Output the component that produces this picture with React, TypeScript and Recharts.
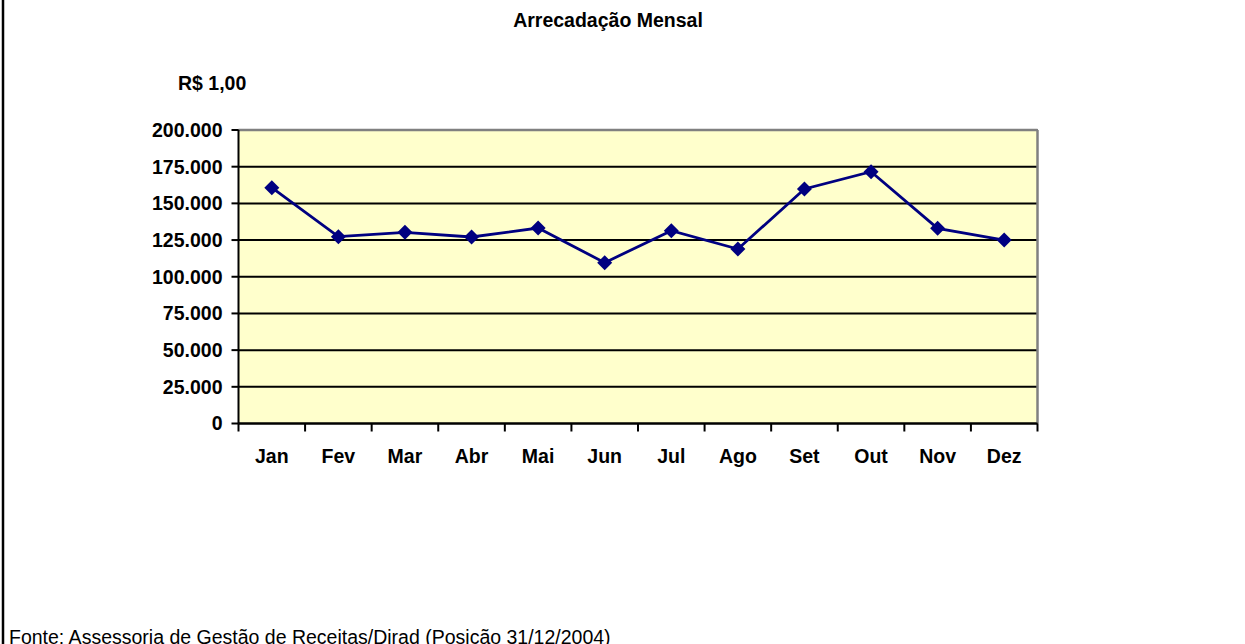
import { LineChart, Line, XAxis, YAxis, CartesianGrid, ReferenceLine } from 'recharts';

// Arrecadação mensal (R$ 1,00)
const months = ['Jan', 'Fev', 'Mar', 'Abr', 'Mai', 'Jun', 'Jul', 'Ago', 'Set', 'Out', 'Nov', 'Dez'];
const values = [160700, 127300, 130300, 127100, 133200, 109600, 131400, 118900, 159800, 171600, 133000, 125000];
const yTicks = [0, 25000, 50000, 75000, 100000, 125000, 150000, 175000, 200000];

const data = months.map((m, i) => ({ idx: i, month: m, value: values[i] }));
// category centres plus the boundaries between them (tick marks go on boundaries)
const xTicks = [-0.5, ...months.flatMap((_, i) => [i, i + 0.5])];

const FONT = '"Liberation Sans", Arial, Helvetica, sans-serif';

const fmt = (v: number) => String(v).replace(/\B(?=(\d{3})+(?!\d))/g, '.');

function XTick(props: any) {
    const { x, y, payload } = props;
    const axisY = y - 8;
    const v = payload.value;
    if (!Number.isInteger(v)) {
        return <line x1={x} x2={x} y1={axisY} y2={axisY + 8} stroke="#000" strokeWidth={2} />;
    }
    return (
        <text x={x} y={axisY + 39} textAnchor="middle" fontFamily={FONT} fontWeight="bold" fontSize={19.5} fill="#000">
            {months[v]}
        </text>
    );
}

function Diamond(props: any) {
    const { cx, cy } = props;
    if (cx == null || cy == null) return null;
    const r = 7.5;
    return <polygon points={`${cx},${cy - r} ${cx + r},${cy} ${cx},${cy + r} ${cx - r},${cy}`} fill="#000080" />;
}

export default function App() {
    return (
        <div style={{ position: 'absolute', left: 0, top: 0, width: 1245, height: 644, overflow: 'hidden', background: '#fff' }}>
            <LineChart width={1245} height={644} data={data} margin={{ top: 130, right: 207.5, left: 0, bottom: 180.5 }}>
                <CartesianGrid vertical={false} stroke="#000" strokeWidth={2} fill="#FFFFCC" fillOpacity={1} />
                <XAxis
                    dataKey="idx"
                    type="number"
                    domain={[-0.5, 11.5]}
                    ticks={xTicks}
                    interval={0}
                    height={40}
                    tickSize={8}
                    tickMargin={0}
                    tickLine={false}
                    tick={<XTick />}
                    axisLine={{ stroke: '#000', strokeWidth: 2 }}
                />
                <YAxis
                    width={238.5}
                    domain={[0, 200000]}
                    ticks={yTicks}
                    interval={0}
                    tickFormatter={fmt}
                    tickSize={7}
                    tickMargin={9}
                    tick={{ fill: '#000', fontSize: 19.5, fontWeight: 'bold', fontFamily: FONT }}
                    tickLine={{ stroke: '#000', strokeWidth: 2 }}
                    axisLine={{ stroke: '#000', strokeWidth: 2 }}
                />
                <ReferenceLine y={200000} stroke="#808080" strokeWidth={2.5} />
                <ReferenceLine x={11.5} stroke="#808080" strokeWidth={2.5} />
                <Line
                    type="linear"
                    dataKey="value"
                    stroke="#000080"
                    strokeWidth={2.8}
                    dot={<Diamond />}
                    activeDot={false}
                    isAnimationActive={false}
                />
            </LineChart>
            <svg width={1245} height={644} style={{ position: 'absolute', left: 0, top: 0, pointerEvents: 'none' }}>
                <line x1={3} x2={3} y1={0} y2={644} stroke="#000" strokeWidth={2.5} />
                <text x={608} y={27} textAnchor="middle" fontFamily={FONT} fontWeight="bold" fontSize={19.5}>
                    Arrecadação Mensal
                </text>
                <text x={178} y={90} fontFamily={FONT} fontWeight="bold" fontSize={19.5}>
                    R$ 1,00
                </text>
                <text x={9} y={644} fontFamily={FONT} fontSize={19.5}>
                    Fonte: Assessoria de Gestão de Receitas/Dirad (Posição 31/12/2004)
                </text>
            </svg>
        </div>
    );
}
